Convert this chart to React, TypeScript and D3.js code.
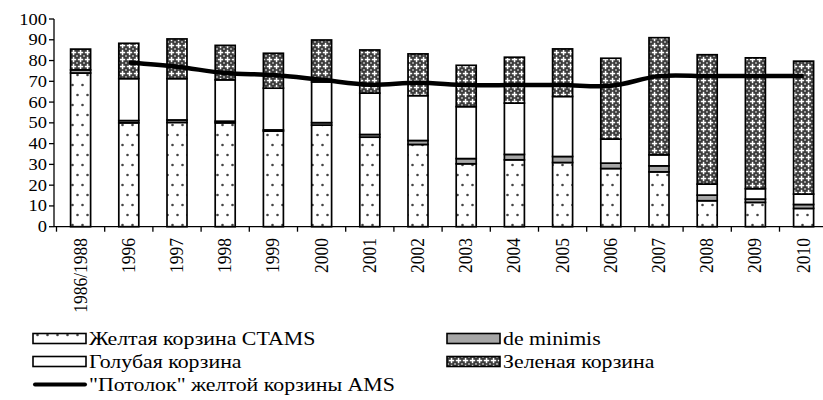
import React from "react";
import * as d3 from "d3";

const categories = ["1986/1988","1996","1997","1998","1999","2000","2001","2002","2003","2004","2005","2006","2007","2008","2009","2010"];
const yellow = [74,50,50.2,50,46,48.9,43.1,39.6,30.3,32.2,30.9,28,26.4,12.5,11.7,8.8];
const deMinimis = [1.5,1.1,1.2,0.8,0.6,1.2,1.3,1.9,2.5,2.6,2.9,2.6,2.9,2.7,1.6,1.9];
const blue = [0,20.2,19.9,19.9,20.1,19.6,19.9,21.6,25,24.7,28.9,11.6,5.3,5.3,5,5];
const green = [10,17,19.1,16.6,16.8,20.2,20.8,20.1,19.9,22.1,22.9,38.9,56.4,62.3,63,64];
const ceiling: (number | null)[] = [null,79,77,74,73,70.7,68.3,69.3,68.2,68.2,68.2,67.8,72.5,72.5,72.5,72.5];
const yTicks = [0,10,20,30,40,50,60,70,80,90,100];

const seriesKeys = ["yellow","deMinimis","blue","green"];
const seriesFill: Record<string,string> = {
  yellow: "url(#patYellow)",
  deMinimis: "#a6a6a6",
  blue: "#ffffff",
  green: "url(#patGreen)",
};
const legendItems = [
  { label: "Желтая корзина CTAMS", kind: "yellow", col: 0, row: 0 },
  { label: "de minimis", kind: "deMinimis", col: 1, row: 0 },
  { label: "Голубая корзина", kind: "blue", col: 0, row: 1 },
  { label: "Зеленая корзина", kind: "green", col: 1, row: 1 },
  { label: "\"Потолок\" желтой корзины AMS", kind: "line", col: 0, row: 2 },
];

const FONT = "'Times New Roman', Times, Tinos, 'Liberation Serif', 'Noto Serif', 'DejaVu Serif', FreeSerif, serif";
const SX = 1.12;
const tStyle = { fontFamily: FONT };

export default function App() {
  const x0 = 56.5, step = 48.2;
  const x = d3.scaleBand<string>().domain(categories).range([x0, x0 + step * categories.length]).paddingInner(0).paddingOuter(0);
  const y = d3.scaleLinear().domain([0, 100]).range([226.7, 19]);
  const barW = 20;

  const table = categories.map((c, i) => ({ cat: c, yellow: yellow[i], deMinimis: deMinimis[i], blue: blue[i], green: green[i] }));
  const stacked = d3.stack<any>().keys(seriesKeys)(table);

  const lineGen = d3.line<number | null>()
    .defined((d) => d !== null)
    .x((_, i) => (x(categories[i]) as number) + x.bandwidth() / 2)
    .y((d) => y(d as number))
    .curve(d3.curveCatmullRom.alpha(0.5));

  const axisX = 54;
  const legendRowY = [338.5, 361.5, 384.5];
  const legendColX = [33, 447];

  return (
    <svg width={823} height={400} style={{ position: "absolute", left: 0, top: 0, background: "#fff" }}>
      <defs>
        <pattern id="patYellow" patternUnits="userSpaceOnUse" width={10} height={20}>
          <rect width={10} height={20} fill="#fff" />
          <circle cx={2.5} cy={5} r={1.3} fill="#444" />
          <circle cx={7.5} cy={15} r={1.3} fill="#444" />
        </pattern>
        <pattern id="patGreen" patternUnits="userSpaceOnUse" width={7} height={7}>
          <rect width={7} height={7} fill="#3a3a3a" />
          <rect x={2.8} y={0.8} width={1.5} height={5.4} fill="#fff" />
          <rect x={0.8} y={2.8} width={5.4} height={1.5} fill="#fff" />
          <circle cx={0} cy={0} r={1.1} fill="#b0b0b0" />
          <circle cx={7} cy={0} r={1.1} fill="#b0b0b0" />
          <circle cx={0} cy={7} r={1.1} fill="#b0b0b0" />
          <circle cx={7} cy={7} r={1.1} fill="#b0b0b0" />
        </pattern>
      </defs>

      {stacked.map((s) => (
        <g key={s.key}>
          {s.map((d, i) => {
            const v = d[1] - d[0];
            if (v <= 0) return null;
            const cx = (x(categories[i]) as number) + x.bandwidth() / 2;
            return (
              <rect key={i} x={cx - barW / 2} y={y(d[1])} width={barW} height={y(d[0]) - y(d[1])}
                fill={seriesFill[s.key]} stroke="#000" strokeWidth={1.7} />
            );
          })}
        </g>
      ))}

      <path d={lineGen(ceiling) || ""} fill="none" stroke="#000" strokeWidth={4.5} strokeLinejoin="round" />

      <line x1={axisX} x2={axisX} y1={y(100)} y2={y(0)} stroke="#000" strokeWidth={1.3} />
      {yTicks.map((t) => (
        <g key={t}>
          <line x1={axisX - 5} x2={axisX} y1={y(t)} y2={y(t)} stroke="#000" strokeWidth={1.3} />
          <text style={tStyle} transform={`translate(47,${y(t) + 5.5}) scale(${SX},1)`} textAnchor="end" fontSize={16.5} fill="#000">{t}</text>
        </g>
      ))}

      <line x1={axisX} x2={x0 + step * categories.length} y1={y(0)} y2={y(0)} stroke="#000" strokeWidth={1.3} />
      {categories.map((c) => {
        const left = x(c) as number;
        const cx = left + x.bandwidth() / 2;
        return (
          <g key={c}>
            <line x1={left} x2={left} y1={y(0)} y2={y(0) + 5} stroke="#000" strokeWidth={1.3} />
            <text style={tStyle} transform={`translate(${cx + 6},238) scale(${SX},1) rotate(-90)`} textAnchor="end" fontSize={17.5} fill="#000">{c}</text>
          </g>
        );
      })}

      {legendItems.map((it) => {
        const lx = legendColX[it.col];
        const ly = legendRowY[it.row];
        return (
          <g key={it.label}>
            {it.kind === "line" ? (
              <line x1={lx + 2} x2={lx + 52} y1={ly} y2={ly} stroke="#000" strokeWidth={4} strokeLinecap="round" />
            ) : (
              <rect x={lx} y={ly - 5} width={53} height={10} fill={seriesFill[it.kind]} stroke="#000" strokeWidth={1.6} />
            )}
            <text style={tStyle} transform={`translate(${lx + 56},${ly + 6.5}) scale(1.15,1)`} fontSize={19} fill="#000">{it.label}</text>
          </g>
        );
      })}
    </svg>
  );
}
